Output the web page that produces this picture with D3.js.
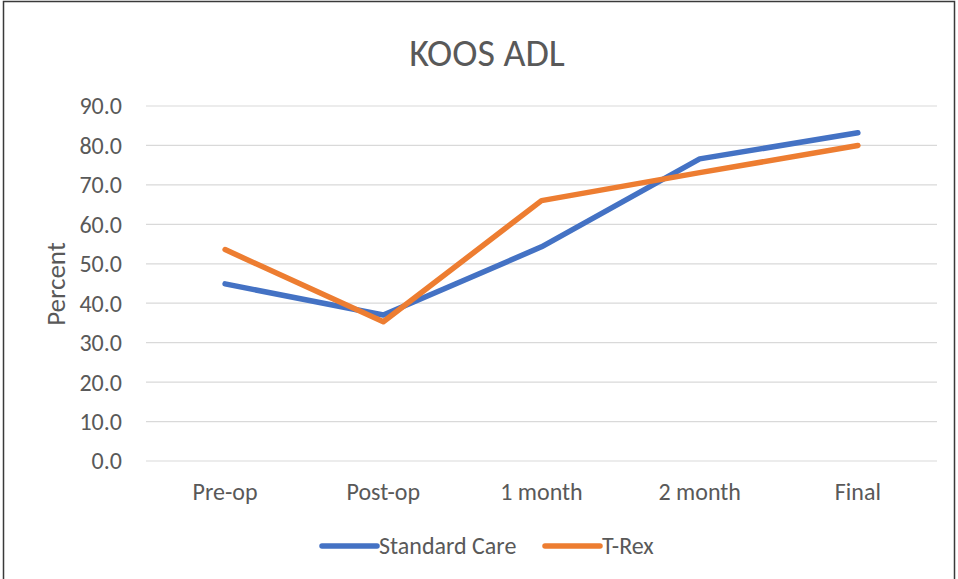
<!DOCTYPE html>
<html>
<head>
<meta charset="utf-8">
<script src="https://cdn.jsdelivr.net/npm/d3@7"></script>
<style>
  body { margin: 0; background: #fff; }
  text { font-family: Carlito, Calibri, Lato, sans-serif; fill: #595959; }
</style>
</head>
<body>
<div id="chart"></div>
<script>
// Data
const categories = ["Pre-op", "Post-op", "1 month", "2 month", "Final"];
const standardCare = [44.9, 37.0, 54.3, 76.6, 83.2];
const tRex = [53.6, 35.3, 66.0, 73.1, 80.0];
const yTicks = [0, 10, 20, 30, 40, 50, 60, 70, 80, 90];
const seriesNames = ["Standard Care", "T-Rex"];
const colors = ["#4472C4", "#ED7D31"];

const W = 958, H = 579;
const plot = { left: 146, right: 937, top: 106, bottom: 461 };

const svg = d3.select("#chart").append("svg")
    .attr("width", W)
    .attr("height", H);

// chart border
svg.append("rect")
    .attr("x", 3.5).attr("y", 1.5)
    .attr("width", 951).attr("height", 590)
    .attr("fill", "#fff")
    .attr("stroke", "#3a3a3a")
    .attr("stroke-width", 1.5);

const x = d3.scaleBand()
    .domain(categories)
    .range([plot.left, plot.right]);

const y = d3.scaleLinear()
    .domain([0, 90])
    .range([plot.bottom, plot.top]);

// gridlines
svg.append("g")
    .selectAll("line")
    .data(yTicks)
    .enter().append("line")
    .attr("x1", plot.left).attr("x2", plot.right)
    .attr("y1", d => y(d)).attr("y2", d => y(d))
    .attr("stroke", "#d9d9d9")
    .attr("stroke-width", 1.2);

// y tick labels
svg.append("g")
    .selectAll("text")
    .data(yTicks)
    .enter().append("text")
    .attr("x", 122)
    .attr("y", d => y(d))
    .attr("dy", "0.35em")
    .attr("text-anchor", "end")
    .style("font-size", "24px")
    .text(d => d.toFixed(1));

// x tick labels
svg.append("g")
    .selectAll("text")
    .data(categories)
    .enter().append("text")
    .attr("x", d => x(d) + x.bandwidth() / 2)
    .attr("y", 500)
    .attr("text-anchor", "middle")
    .style("font-size", "24px")
    .text(d => d);

// title
svg.append("text")
    .attr("x", 487)
    .attr("y", 66)
    .attr("text-anchor", "middle")
    .style("font-size", "38px")
    .text("KOOS ADL");

// y axis label
svg.append("text")
    .attr("transform", "translate(65,284) rotate(-90)")
    .attr("text-anchor", "middle")
    .style("font-size", "27px")
    .text("Percent");

// lines
const line = d3.line()
    .x((d, i) => x(categories[i]) + x.bandwidth() / 2)
    .y(d => y(d));

[standardCare, tRex].forEach((values, i) => {
    svg.append("path")
        .datum(values)
        .attr("fill", "none")
        .attr("stroke", colors[i])
        .attr("stroke-width", 5.5)
        .attr("stroke-linejoin", "round")
        .attr("stroke-linecap", "round")
        .attr("d", line);
});

// legend
const legendX = [322, 545];
seriesNames.forEach((name, i) => {
    svg.append("line")
        .attr("x1", legendX[i]).attr("x2", legendX[i] + 55)
        .attr("y1", 546).attr("y2", 546)
        .attr("stroke", colors[i])
        .attr("stroke-width", 5.5)
        .attr("stroke-linecap", "round");
    svg.append("text")
        .attr("x", legendX[i] + 57)
        .attr("y", 546)
        .attr("dy", "0.35em")
        .style("font-size", "24px")
        .text(name);
});
</script>
</body>
</html>
